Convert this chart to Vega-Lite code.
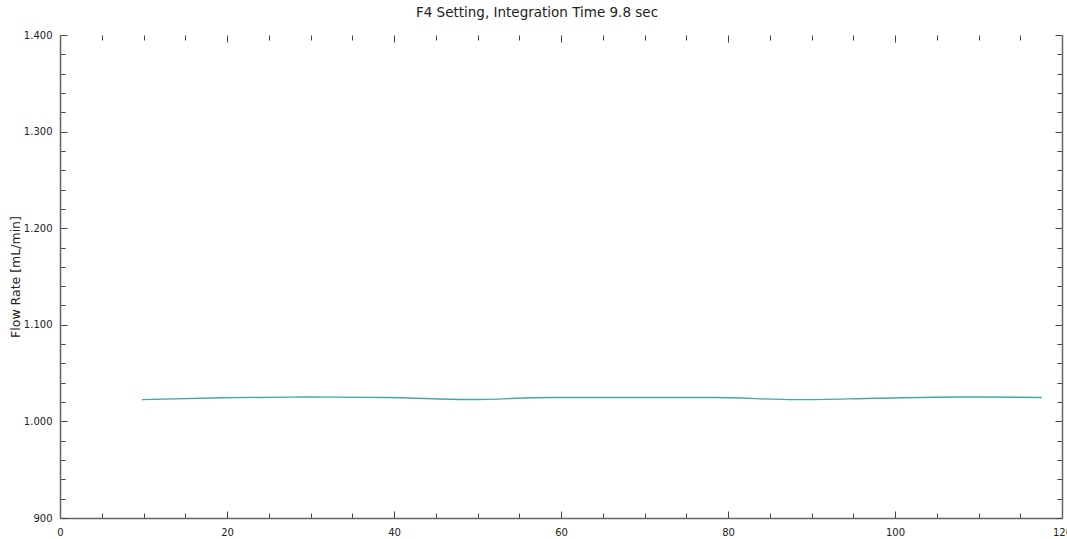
{
  "$schema": "https://vega.github.io/schema/vega-lite/v6.json",
  "width": 1002,
  "height": 483,
  "autosize": "none",
  "padding": {"left": 60, "top": 35, "right": 5, "bottom": 21},
  "background": "white",
  "title": {"text": "F4 Setting, Integration Time 9.8 sec", "font": "DejaVu Sans", "fontSize": 13.5, "fontWeight": "normal", "color": "#222", "offset": 11, "dx": -24},
  "config": {"view": {"stroke": null}, "axis": {"labelFont": "DejaVu Sans", "titleFont": "DejaVu Sans", "labelFontSize": 10, "labelColor": "#222", "grid": false}},
  "data": {"values": [
    {"t": 9.8, "flow": 1.0225},
    {"t": 19.6, "flow": 1.0245},
    {"t": 29.4, "flow": 1.0252},
    {"t": 39.2, "flow": 1.0248},
    {"t": 49.0, "flow": 1.0226},
    {"t": 58.8, "flow": 1.0247},
    {"t": 68.6, "flow": 1.0248},
    {"t": 78.4, "flow": 1.0247},
    {"t": 88.2, "flow": 1.0225},
    {"t": 98.0, "flow": 1.0240},
    {"t": 107.8, "flow": 1.0253},
    {"t": 117.6, "flow": 1.0248}
  ]},
  "layer": [
    {
      "mark": {"type": "line", "color": "#45a9a3", "strokeWidth": 1.4, "interpolate": "monotone"},
      "encoding": {
        "x": {"field": "t", "type": "quantitative", "scale": {"domain": [0, 120], "nice": false, "zero": false},
          "axis": {"orient": "bottom", "title": null, "values": [0,5,10,15,20,25,30,35,40,45,50,55,60,65,70,75,80,85,90,95,100,105,110,115,120],
            "labelExpr": "datum.value % 20 === 0 ? datum.label : ''", "labelFlush": false, "labelOverlap": false,
            "tickSize": {"condition": {"test": "datum.value % 20 === 0", "value": -7}, "value": -5},
            "tickColor": "#444", "domainColor": "#666", "domainWidth": 1.5, "labelPadding": 16}},
        "y": {"field": "flow", "type": "quantitative", "scale": {"domain": [0.9, 1.4], "nice": false, "zero": false},
          "axis": {"orient": "left", "title": "Flow Rate [mL/min]", "titleFontSize": 12.5, "titleFontWeight": "normal", "titleColor": "#222", "titlePadding": 1,
            "values": [0.9,0.92,0.94,0.96,0.98,1.0,1.02,1.04,1.06,1.08,1.1,1.12,1.14,1.16,1.18,1.2,1.22,1.24,1.26,1.28,1.3,1.32,1.34,1.36,1.38,1.4],
            "labelExpr": "round(datum.value*100) % 10 === 0 ? (datum.value < 0.95 ? '900' : format(datum.value, '.3f')) : ''", "labelOverlap": false, "labelFlush": false,
            "tickSize": {"condition": {"test": "round(datum.value*100) % 10 === 0", "value": -7}, "value": -5},
            "tickColor": "#444", "domainColor": "#666", "domainWidth": 1.5, "labelPadding": 15}}
      }
    },
    {
      "mark": {"type": "line", "strokeOpacity": 0},
      "encoding": {
        "x": {"field": "t", "type": "quantitative",
          "axis": {"orient": "top", "title": null, "labels": false, "domain": false, "values": [0,5,10,15,20,25,30,35,40,45,50,55,60,65,70,75,80,85,90,95,100,105,110,115,120],
            "tickSize": {"condition": {"test": "datum.value % 20 === 0", "value": -7}, "value": -5}, "tickColor": "#444"}},
        "y": {"field": "flow", "type": "quantitative",
          "axis": {"orient": "right", "title": null, "labels": false, "domainColor": "#666", "domainWidth": 1.5,
            "values": [0.9,0.92,0.94,0.96,0.98,1.0,1.02,1.04,1.06,1.08,1.1,1.12,1.14,1.16,1.18,1.2,1.22,1.24,1.26,1.28,1.3,1.32,1.34,1.36,1.38,1.4],
            "tickSize": {"condition": {"test": "round(datum.value*100) % 10 === 0", "value": -7}, "value": -5}, "tickColor": "#444"}}
      }
    }
  ]
}
